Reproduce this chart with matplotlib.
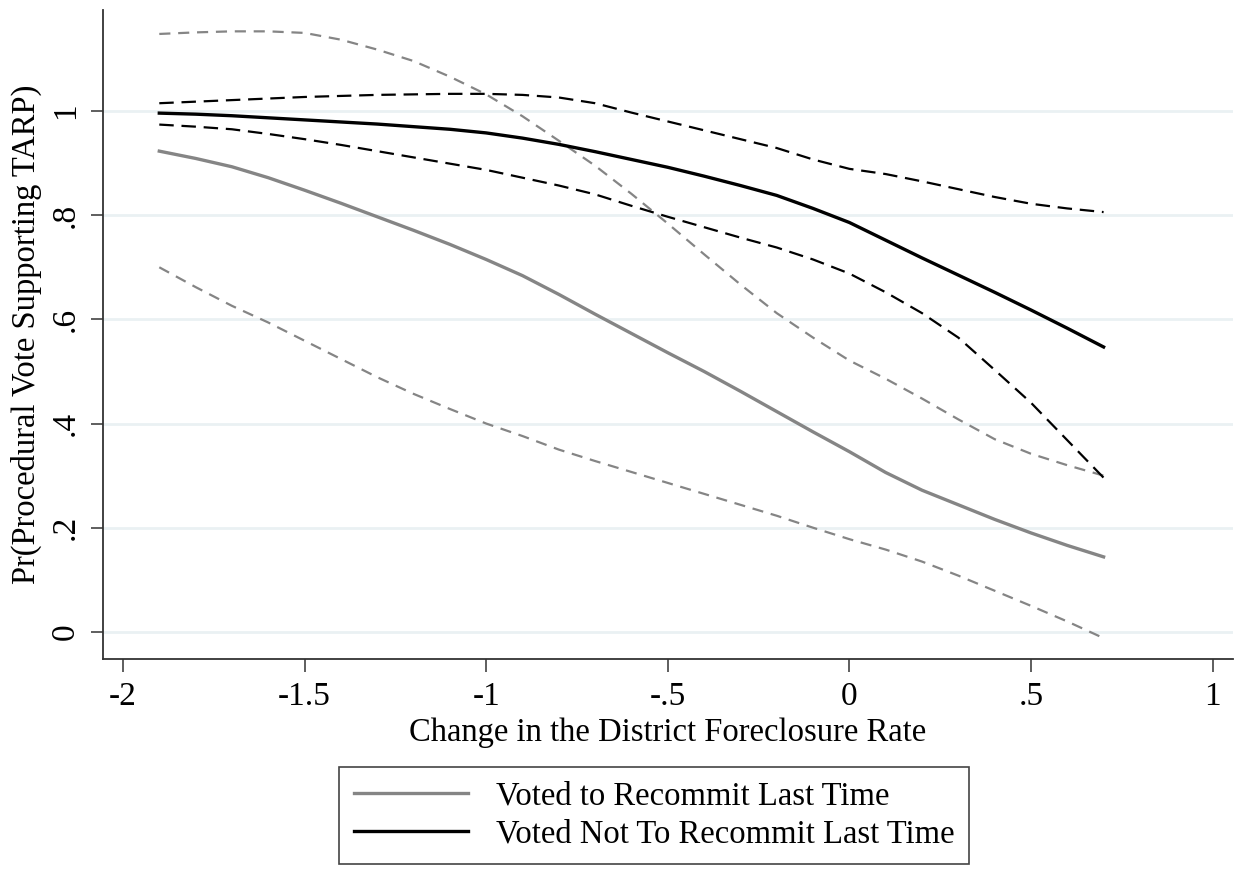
import matplotlib
matplotlib.use("Agg")
import matplotlib.pyplot as plt

plt.rcParams['font.family'] = ['Liberation Serif', 'DejaVu Serif']

# predicted probabilities by change in foreclosure rate, step 0.1
x = [-1.9, -1.8, -1.7, -1.6, -1.5, -1.4, -1.3, -1.2, -1.1, -1.0, -0.9, -0.8, -0.7, -0.6,
     -0.5, -0.4, -0.3, -0.2, -0.1, 0.0, 0.1, 0.2, 0.3, 0.4, 0.5, 0.6, 0.7]

recommit = [0.923, 0.909, 0.893, 0.872, 0.848, 0.823, 0.797, 0.771, 0.744, 0.715,
            0.684, 0.648, 0.610, 0.573, 0.536, 0.500, 0.462, 0.423, 0.384, 0.346,
            0.306, 0.272, 0.244, 0.216, 0.190, 0.166, 0.144]
recommit_hi = [1.148, 1.151, 1.153, 1.153, 1.150, 1.137, 1.118, 1.096, 1.066, 1.032,
               0.990, 0.943, 0.895, 0.841, 0.784, 0.725, 0.667, 0.612, 0.565, 0.521,
               0.486, 0.448, 0.408, 0.370, 0.342, 0.320, 0.300]
recommit_lo = [0.700, 0.662, 0.626, 0.594, 0.559, 0.524, 0.489, 0.457, 0.428, 0.400,
               0.376, 0.350, 0.328, 0.307, 0.286, 0.265, 0.244, 0.223, 0.200, 0.178,
               0.158, 0.135, 0.108, 0.079, 0.050, 0.020, -0.012]

no_recommit = [0.996, 0.994, 0.991, 0.987, 0.983, 0.979, 0.975, 0.970, 0.965, 0.958,
               0.948, 0.936, 0.922, 0.907, 0.892, 0.875, 0.857, 0.838, 0.813, 0.786,
               0.752, 0.718, 0.685, 0.652, 0.618, 0.583, 0.547]
no_recommit_hi = [1.015, 1.018, 1.021, 1.024, 1.027, 1.029, 1.031, 1.032, 1.033, 1.033,
                  1.031, 1.026, 1.015, 0.997, 0.980, 0.963, 0.946, 0.929, 0.907, 0.889,
                  0.879, 0.865, 0.850, 0.835, 0.822, 0.813, 0.806]
no_recommit_lo = [0.974, 0.970, 0.965, 0.956, 0.946, 0.935, 0.923, 0.911, 0.899, 0.887,
                  0.872, 0.857, 0.840, 0.818, 0.797, 0.777, 0.757, 0.738, 0.715, 0.688,
                  0.652, 0.612, 0.565, 0.503, 0.440, 0.368, 0.296]

xticks = [-2, -1.5, -1, -0.5, 0, 0.5, 1]
xticklabels = ['-2', '-1.5', '-1', '-.5', '0', '.5', '1']
yticks = [0, 0.2, 0.4, 0.6, 0.8, 1]
yticklabels = ['0', '.2', '.4', '.6', '.8', '1']

gray = '#858585'

fig = plt.figure(figsize=(12.35, 8.69), dpi=100)
ax = fig.add_axes([0.0834, 0.2417, 0.9146, 0.7468])

for yv in yticks:
    ax.axhline(yv, color='#eaf1f3', lw=2, zorder=0)

ax.plot(x, recommit_hi, color=gray, lw=1.6, dashes=(5, 3.5))
ax.plot(x, recommit_lo, color=gray, lw=1.6, dashes=(5, 3.5))
ax.plot(x, no_recommit_hi, color='black', lw=1.6, dashes=(6.5, 3.5))
ax.plot(x, no_recommit_lo, color='black', lw=1.6, dashes=(6.5, 3.5))
l1, = ax.plot(x, recommit, color=gray, lw=2.4)
l2, = ax.plot(x, no_recommit, color='black', lw=2.4)

ax.set_xlim(-2.055, 1.055)
ax.set_ylim(-0.052, 1.194)
ax.set_xticks(xticks)
ax.set_xticklabels(xticklabels)
ax.set_yticks(yticks)
ax.set_yticklabels(yticklabels, rotation=90, va='center')
ax.tick_params(axis='both', direction='out', length=9, width=1.1, color='#333333',
               labelsize=24, pad=7)

for s in ['top', 'right']:
    ax.spines[s].set_visible(False)
for s in ['left', 'bottom']:
    ax.spines[s].set_color('#333333')
    ax.spines[s].set_linewidth(1.3)

ax.set_xlabel('Change in the District Foreclosure Rate', fontsize=23.5, labelpad=4)
ax.set_ylabel('Pr(Procedural Vote Supporting TARP)', fontsize=23.5, labelpad=6)

leg = fig.legend([l1, l2], ['Voted to Recommit Last Time', 'Voted Not To Recommit Last Time'],
                 loc='center', bbox_to_anchor=(0.5296, 0.0616), fontsize=23.5,
                 handlelength=3.5, handletextpad=0.85, labelspacing=0.22,
                 fancybox=False, framealpha=1, edgecolor='#444444', borderpad=0.45)
leg.get_frame().set_linewidth(1.2)

fig.savefig('out.png', dpi=100)
